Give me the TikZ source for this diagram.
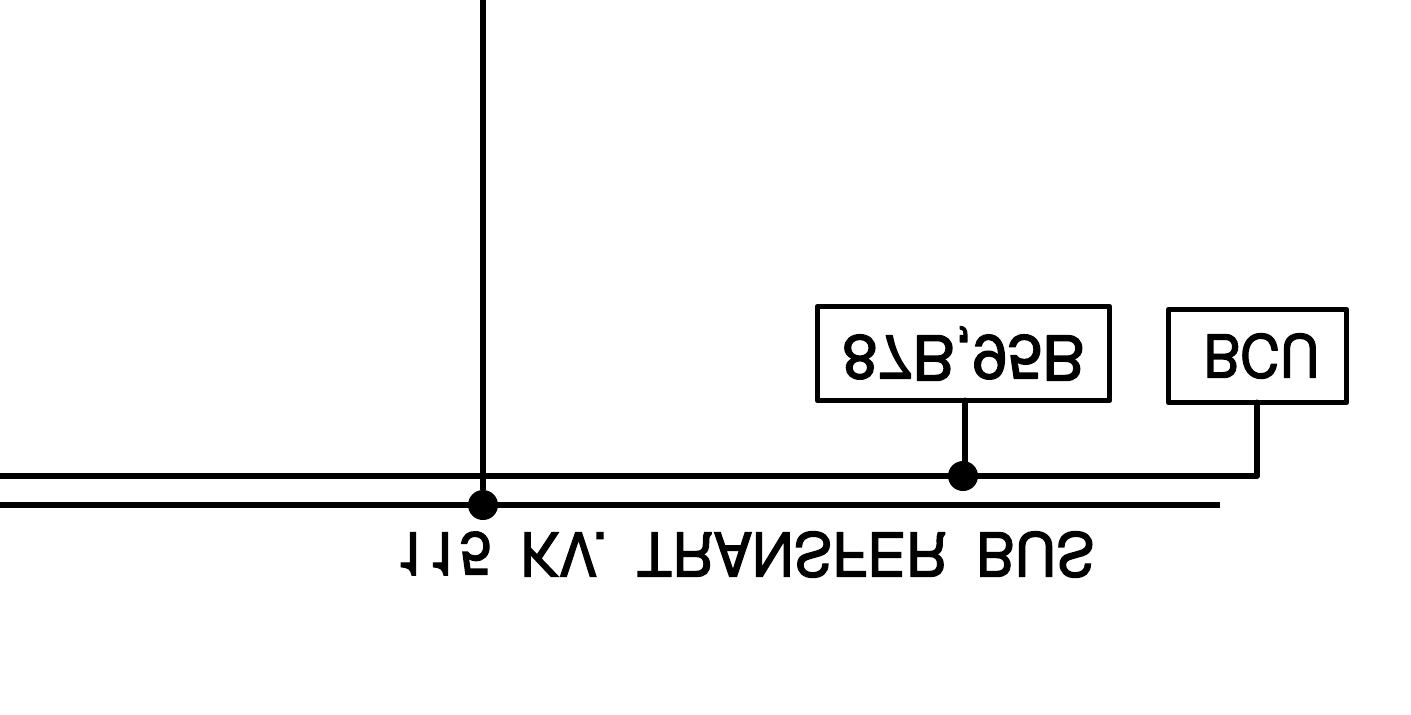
\documentclass[tikz,border=0pt]{standalone}
\usepackage{graphicx}
\usepackage{fontspec}
\newfontfamily\cadfont[FakeBold=2.2]{TeX Gyre Heros}
\newcommand{\fliptext}[3]{\scalebox{1}[-1]{\resizebox{#1}{#2}{\cadfont #3}}}
\tikzset{
  relaybox/.style={draw=black,line width=2.9pt,fill=white,inner sep=0pt,outer sep=0pt,line join=round},
  wire/.style={draw=black,line width=3pt,line cap=round,line join=round},
  buswire/.style={draw=black,line width=3.3pt},
  joint/.style={circle,fill=black,draw=none,minimum size=15pt,inner sep=0pt},
  plainlabel/.style={inner sep=0pt,outer sep=0pt}
}
\begin{document}
\begin{tikzpicture}[x=0.5pt,y=-0.5pt]
\useasboundingbox (0,0) rectangle (1411,714);
\coordinate (feederTop) at (483,-4);
\coordinate (busAleft) at (-4,476);
\coordinate (busBleft) at (-4,505);
\coordinate (busBright) at (1220,505);
\coordinate (busAcorner) at (1257,476);
\coordinate (relayFoot) at (965,476);
\node[relaybox,minimum width=146pt,minimum height=47pt] (relay) at (963.5,353.5) {\fliptext{121pt}{22.5pt}{87B,95B}};
\node[relaybox,minimum width=89pt,minimum height=46.5pt] (bcu) at (1257.5,356) {\hspace{4pt}\fliptext{58pt}{22pt}{BCU}};
\node[joint] (jA) at (963,476) {};
\node[joint] (jB) at (483,505) {};
\node[plainlabel] (buslabel) at (745,554.5) {\fliptext{349.5pt}{22.5pt}{115\hspace{0.5em}KV.\hspace{0.5em}TRANSFER\hspace{0.5em}BUS}};
\draw[buswire] (busAleft) -- (busAcorner);
\draw[buswire] (busBleft) -- (busBright);
\draw[buswire] (feederTop) -- (jB);
\draw[wire] (busAcorner) -- (bcu.south -| busAcorner);
\draw[wire] (relayFoot) -- (relay.south -| relayFoot);
\end{tikzpicture}
\end{document}
